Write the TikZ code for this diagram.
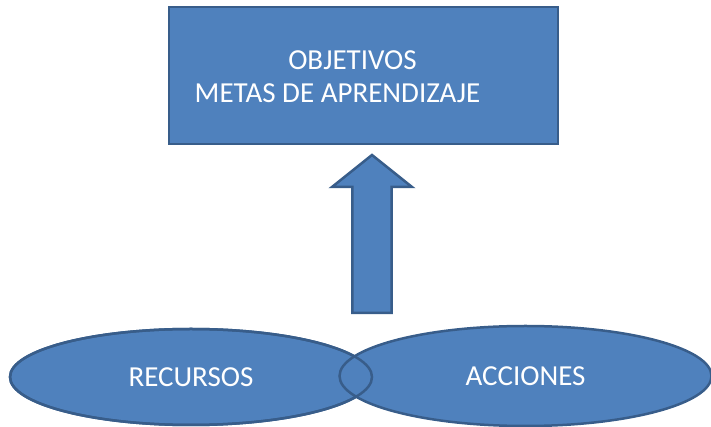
\documentclass[tikz,border=0pt]{standalone}
\usepackage{fontspec}
\setmainfont{Carlito}
\usetikzlibrary{shapes.geometric}
\definecolor{boxfill}{HTML}{4F81BD}
\definecolor{boxline}{HTML}{385D8A}
\begin{document}
\begin{tikzpicture}[x=1pt,y=1pt,
  shapebox/.style={fill=boxfill,draw=boxline,line width=2.5pt},
  lbl/.style={text=white,font=\fontsize{29}{35}\selectfont,inner sep=0pt},
  oval/.style={shapebox,ellipse,inner sep=0pt,text=white,font=\fontsize{29}{35}\selectfont}]
\useasboundingbox (0,0) rectangle (711,427);
\node[shapebox,minimum width=389pt,minimum height=137pt,inner sep=0pt] (goal) at (363.5,351.5) {};
\node[lbl,anchor=base] (t1) at (352.5,357) {OBJETIVOS};
\node[lbl,anchor=base] (t2) at (337.5,324) {METAS DE APRENDIZAJE};
% block arrow
\coordinate (tip) at (372,272);
\coordinate (hl) at (332,240);
\coordinate (hr) at (412,240);
\coordinate (sl) at (352.3,240);
\coordinate (sr) at (391.7,240);
\coordinate (bl) at (352.3,114);
\coordinate (br) at (391.7,114);
\draw[shapebox,line join=miter] (tip) -- (hr) -- (sr) -- (br) -- (bl) -- (sl) -- (hl) -- cycle;
\node[oval,minimum width=362pt,minimum height=96pt] (rec) at (191,50) {RECURSOS};
\node[oval,minimum width=372pt,minimum height=100pt] (acc) at (525.5,51) {ACCIONES};
\node[ellipse,draw=boxline,line width=2.5pt,minimum width=362pt,minimum height=96pt,inner sep=0pt] (recline) at (rec.center) {};
\end{tikzpicture}
\end{document}
